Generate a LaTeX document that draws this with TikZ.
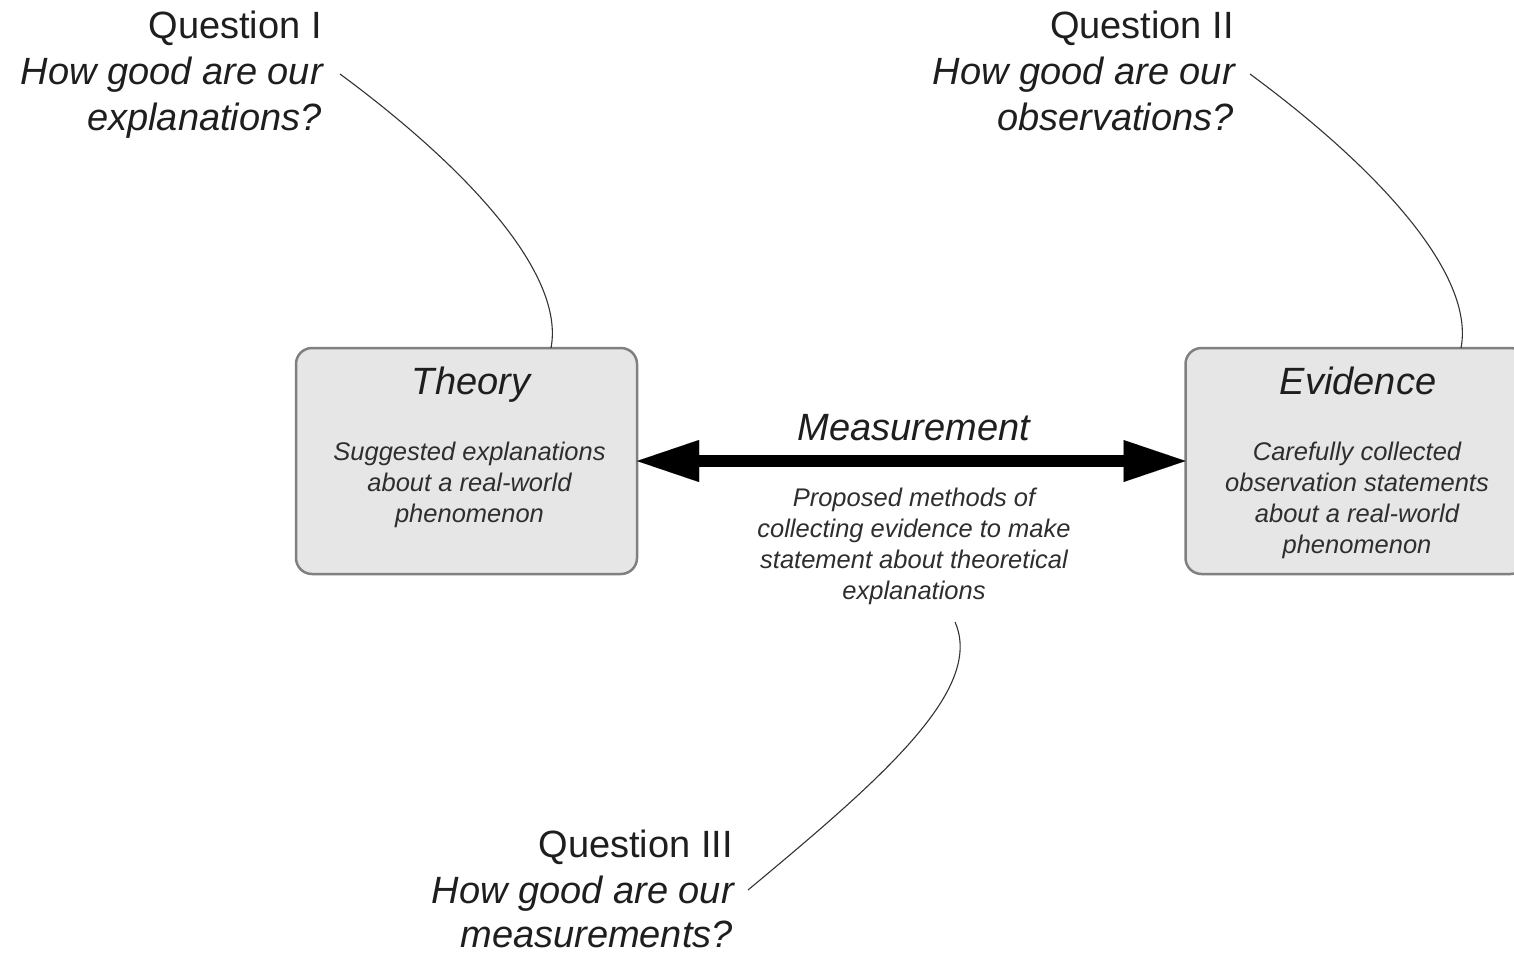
\documentclass[tikz,border=0pt]{standalone}
\usepackage{fontspec}
\setmainfont{Liberation Sans}
\usetikzlibrary{arrows.meta}
\definecolor{boxfill}{HTML}{E6E6E6}
\definecolor{boxline}{HTML}{808080}
\definecolor{ink}{HTML}{1E1E1E}
\definecolor{inksoft}{HTML}{2E2E2E}
\definecolor{curvecol}{HTML}{333333}
\begin{document}
\begin{tikzpicture}[x=1pt,y=-1pt,
  box/.style={draw=boxline, line width=2.5pt, fill=boxfill, rounded corners=16pt,
    minimum width=341pt, minimum height=226pt, inner sep=0pt, outer sep=0pt},
  big/.style={font=\fontsize{38}{46}\selectfont, text=ink, inner sep=0pt},
  bigit/.style={font=\fontsize{38}{46}\selectfont\itshape, text=ink, inner sep=0pt},
  small/.style={font=\fontsize{25.5}{31}\selectfont\itshape, text=inksoft, inner sep=0pt, anchor=base},
  leader/.style={draw=curvecol, line width=1.1pt}
]
\useasboundingbox (0,0) rectangle (1514,953);
\clip (0,0) rectangle (1514,953);

% Boxes
\node[box] (theory) at (466.5,461) {};
\node[box] (evidence) at (1356,461) {};

% Box texts
\node[bigit, anchor=base] (theoryT) at (471,394) {Theory};
\node[small] (th1) at (469.5,460) {Suggested explanations};
\node[small] (th2) at (469.5,491) {about a real-world};
\node[small] (th3) at (469.5,522) {phenomenon};

\node[bigit, anchor=base] (evidenceT) at (1358,394) {Evidence};
\node[small] (ev1) at (1357,460) {Carefully collected};
\node[small] (ev2) at (1357,491) {observation statements};
\node[small] (ev3) at (1357,522) {about a real-world};
\node[small] (ev4) at (1357,553) {phenomenon};

% Measurement arrow
\draw[line width=12pt,
  {Triangle[length=62pt,width=42pt,line width=0.01pt]}-{Triangle[length=62pt,width=42pt,line width=0.01pt]}]
  (theory.east) -- (evidence.west);
\node[bigit, anchor=base] (measT) at (914,440) {Measurement};
\node[small] (me1) at (914,506) {Proposed methods of};
\node[small] (me2) at (914,537) {collecting evidence to make};
\node[small] (me3) at (914,568) {statement about theoretical};
\node[small] (me4) at (914,599) {explanations};

% Question I
\node[big, anchor=base east] (q1a) at (322,38) {Question I};
\node[bigit, anchor=base east] (q1b) at (323,84) {How good are our};
\node[bigit, anchor=base east] (q1c) at (322,130) {explanations?};

% Question II
\node[big, anchor=base east] (q2a) at (1234,38) {Question II};
\node[bigit, anchor=base east] (q2b) at (1235,84) {How good are our};
\node[bigit, anchor=base east] (q2c) at (1234,130) {observations?};

% Question III
\node[big, anchor=base east] (q3a) at (733,857) {Question III};
\node[bigit, anchor=base east] (q3b) at (734,903) {How good are our};
\node[bigit, anchor=base east] (q3c) at (733,947) {measurements?};

% Leader curves
\coordinate (c1) at (340,74);
\coordinate (c2) at (1250,74);
\coordinate (c3a) at (748,890);
\coordinate (c3b) at (955,622);
\draw[leader] (c1) .. controls (470,170) and (565,275) .. ([xshift=84.5pt]theory.north);
\draw[leader] (c2) .. controls (1380,170) and (1475,275) .. ([xshift=105pt]evidence.north);
\draw[leader] (c3a) .. controls (880,780) and (985,690) .. (c3b);
\end{tikzpicture}
\end{document}
